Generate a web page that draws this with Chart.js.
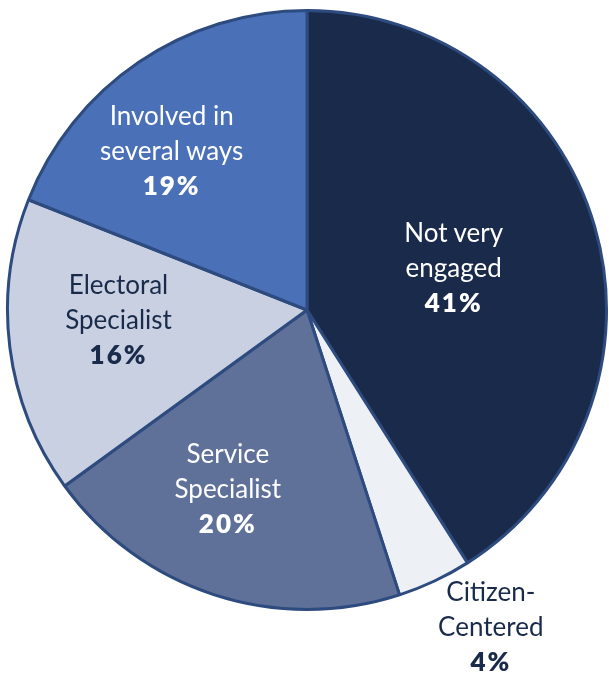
<!DOCTYPE html>
<html lang="en">
<head>
<meta charset="UTF-8">
<title>Engagement types</title>
<script src="https://cdn.jsdelivr.net/npm/chart.js"></script>
<style>
    html, body { margin: 0; padding: 0; background: #fff; }
    .wrap { position: relative; width: 609px; height: 673px; overflow: hidden; }
    .lbl { position: absolute; transform: translate(-50%, -50%); text-align: center; white-space: nowrap;
           font-family: Lato, "Open Sans", sans-serif; font-size: 26px; line-height: 35px; }
    .lbl b { font-weight: 800; letter-spacing: 2px; font-size: 26px; }
</style>
</head>
<body>
<div class="wrap" id="wrap">
    <canvas id="pie" width="609" height="673"></canvas>
</div>
<script>
// data
const categories = ['Not very engaged', 'Citizen-Centered', 'Service Specialist', 'Electoral Specialist', 'Involved in several ways'];
const labelLines = [['Not very', 'engaged'], ['Citizen-', 'Centered'], ['Service', 'Specialist'], ['Electoral', 'Specialist'], ['Involved in', 'several ways']];
const shares = [41, 4, 20, 16, 19];

// look
const fills = ['#1a2a4b', '#edf1f5', '#5f7199', '#c8d0e1', '#4a70b8'];
const textColors = ['#ffffff', '#1a2a4b', '#ffffff', '#1a2a4b', '#ffffff'];
// label anchor: fraction of radius, angle shift in degrees
const labelPlace = [[0.51, 0], [1.22, -5], [0.65, 6], [0.63, 4.5], [0.70, -6]];

const wrap = document.getElementById('wrap');
const labelEls = shares.map((v, i) => {
    const d = document.createElement('div');
    d.className = 'lbl';
    d.style.color = textColors[i];
    d.innerHTML = labelLines[i].join('<br>') + '<br><b>' + v + '%</b>';
    wrap.appendChild(d);
    return d;
});

const placeLabels = {
    id: 'placeLabels',
    afterDraw(chart) {
        const arcs = chart.getDatasetMeta(0).data;
        arcs.forEach((arc, i) => {
            const p = arc.getProps(['x', 'y', 'startAngle', 'endAngle', 'outerRadius'], true);
            const a = (p.startAngle + p.endAngle) / 2 + labelPlace[i][1] * Math.PI / 180;
            const r = p.outerRadius * labelPlace[i][0];
            labelEls[i].style.left = (p.x + Math.cos(a) * r) + 'px';
            labelEls[i].style.top = (p.y + Math.sin(a) * r) + 'px';
        });
    }
};

new Chart(document.getElementById('pie'), {
    type: 'pie',
    data: {
        labels: categories,
        datasets: [{
            data: shares,
            backgroundColor: fills,
            borderColor: '#2d4b7e',
            borderWidth: 3,
            hoverOffset: 0
        }]
    },
    options: {
        responsive: false,
        animation: false,
        layout: { padding: { left: 6, right: 1, top: 9, bottom: 62 } },
        plugins: { legend: { display: false }, tooltip: { enabled: false } }
    },
    plugins: [placeLabels]
});
</script>
</body>
</html>
